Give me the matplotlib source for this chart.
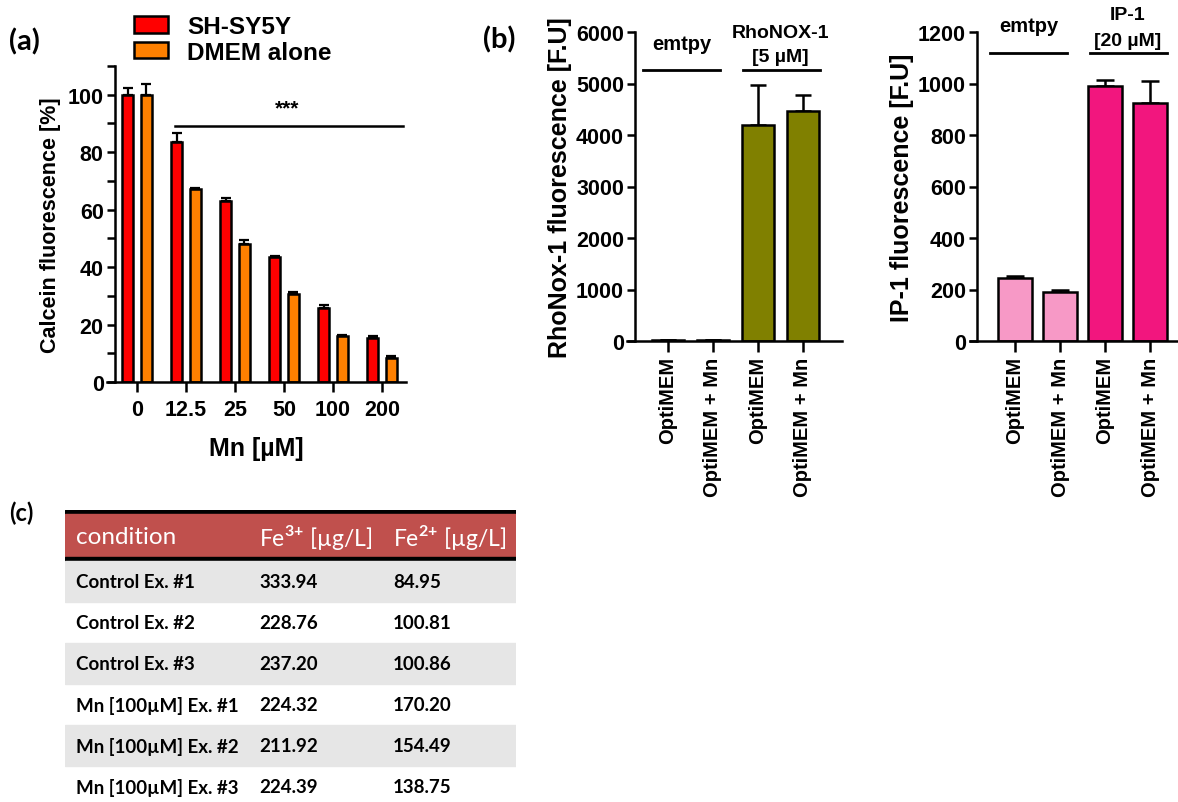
import numpy as np
import matplotlib
matplotlib.use("Agg")
import matplotlib.pyplot as plt
from matplotlib.patches import Rectangle

# panel (a) - calcein quench
mn_labels = ["0", "12.5", "25", "50", "100", "200"]
shsy5y = [99.8, 83.7, 62.9, 43.4, 25.6, 15.2]
shsy5y_err = [2.5, 2.9, 1.0, 0.4, 1.2, 0.9]
dmem = [99.8, 67.1, 47.9, 30.7, 15.9, 8.2]
dmem_err = [3.9, 0.6, 1.4, 0.5, 0.5, 0.7]

# panel (b) - RhoNox-1 and IP-1
cond_labels = ["OptiMEM", "OptiMEM + Mn", "OptiMEM", "OptiMEM + Mn"]
rhonox = [15, 15, 4200, 4460]
rhonox_err = [0, 0, 780, 320]
ip1 = [243, 191, 989, 925]
ip1_err = [10, 6, 23, 83]

# panel (c) - table
conditions = ["Control Ex. #1", "Control Ex. #2", "Control Ex. #3",
              "Mn [100µM] Ex. #1", "Mn [100µM] Ex. #2", "Mn [100µM] Ex. #3"]
fe3 = [333.94, 228.76, 237.20, 224.32, 211.92, 224.39]
fe2 = [84.95, 100.81, 100.86, 170.20, 154.49, 138.75]

W, H = 1178, 803
plt.rcParams["font.family"] = ["Liberation Sans", "DejaVu Sans"]
plt.rcParams["font.weight"] = "bold"
plt.rcParams["axes.labelweight"] = "bold"
plt.rcParams["mathtext.fontset"] = "custom"
plt.rcParams["mathtext.rm"] = "Lato"
plt.rcParams["mathtext.bf"] = "Lato:bold"

fig = plt.figure(figsize=(W / 100, H / 100), dpi=100)


def px_axes(l, t, r, b):
    return fig.add_axes([l / W, 1 - b / H, (r - l) / W, (b - t) / H])


def style_axes(ax, spine_x, labelsize):
    for s in ["top", "right"]:
        ax.spines[s].set_visible(False)
    for s in ["left", "bottom"]:
        ax.spines[s].set_linewidth(1.8)
    ax.spines["left"].set_position(("data", spine_x))
    ax.tick_params(width=1.8, length=6, labelsize=labelsize, pad=2)


def errs(e):
    return [np.zeros(len(e)), e]


# ---------- (a)
ax = px_axes(107, 67, 406, 383)
x = np.arange(len(mn_labels))
b1 = ax.bar(x - 0.19, shsy5y, 0.23, color="#FF0000", edgecolor="black", linewidth=1.8, label="SH-SY5Y")
b2 = ax.bar(x + 0.19, dmem, 0.23, color="#FF8000", edgecolor="black", linewidth=1.8, label="DMEM alone")
ax.errorbar(x - 0.19, shsy5y, yerr=errs(shsy5y_err), fmt="none", ecolor="black",
            elinewidth=1.6, capsize=3.5, capthick=1.6, zorder=1)
ax.errorbar(x + 0.19, dmem, yerr=errs(dmem_err), fmt="none", ecolor="black",
            elinewidth=1.6, capsize=3.5, capthick=1.6, zorder=1)
ax.set_xlim(-0.61, 5.49)
ax.set_ylim(0, 110)
style_axes(ax, -0.45, 15.5)
ax.set_xticks(x)
ax.set_xticklabels(mn_labels)
ax.set_yticks(np.arange(0, 111, 10))
ax.set_yticklabels([str(v) if v % 20 == 0 else "" for v in range(0, 111, 10)])
ax.tick_params(axis="x", length=7, pad=5)
ax.set_ylabel("Calcein fluorescence [%]", fontsize=15.5, labelpad=5)
ax.set_xlabel("Mn [µM]", fontsize=18, labelpad=12)
ax.plot([0.78, 5.43], [89, 89], color="black", lw=1.8, clip_on=False)
ax.text(3.06, 95.5, "***", ha="center", va="center", fontsize=15)
ax.legend(handles=[b1, b2], loc="upper left", bbox_to_anchor=(134 / W, 1 - 16 / H),
          bbox_transform=fig.transFigure, frameon=False, fontsize=17.5,
          handlelength=1.4, handleheight=0.65, handletextpad=0.8, labelspacing=0.12,
          borderpad=0, borderaxespad=0)


def fluo_panel(l, r, spine_x, xlim, vals, err, colors, width, ymax, step,
               ylabel, left_txt, right_txt, line_y, capsize):
    ax = px_axes(l, 33, r, 342)
    xx = np.arange(len(vals))
    ax.bar(xx, vals, width, color=colors, edgecolor="black", linewidth=1.8, zorder=2)
    ax.errorbar(xx, vals, yerr=errs(err), fmt="none", ecolor="black",
                elinewidth=1.8, capsize=capsize, capthick=1.8, zorder=1)
    ax.set_xlim(*xlim)
    ax.set_ylim(0, ymax)
    style_axes(ax, spine_x, 15.5)
    ax.set_yticks(np.arange(0, ymax + 1, step))
    ax.set_xticks(xx)
    ax.set_xticklabels(cond_labels, rotation=90, fontsize=14.5)
    ax.tick_params(axis="x", length=8, pad=3)
    ax.set_ylabel(ylabel, fontsize=18, labelpad=3)
    # group annotations
    for x0, x1 in [(-0.56, 1.15), (1.66, 3.37)]:
        ax.plot([x0, x1], [line_y, line_y], color="black", lw=2, clip_on=False)
    ax.text(0.3, left_txt[1], left_txt[0], ha="center", va="center", fontsize=14.5)
    for txt, yy in right_txt:
        ax.text(2.5, yy, txt, ha="center", va="center", fontsize=14)
    return ax


fluo_panel(627, 842, -0.73, (-0.91, 3.87), rhonox, rhonox_err, "#808000", 0.71, 6000, 1000,
           "RhoNox-1 fluorescence [F.U]", ("emtpy", 5774),
           [("RhoNOX-1", 6000), ("[5 µM]", 5520)], 5268, 5.5)
fluo_panel(970, 1178, -0.84, (-1.0, 3.62), ip1, ip1_err,
           ["#F799C6", "#F799C6", "#F2167E", "#F2167E"], 0.75, 1200, 200,
           "IP-1 fluorescence [F.U]", ("emtpy", 1225),
           [("IP-1", 1268), ("[20 µM]", 1167)], 1119, 6.5)

# ---------- (c) table, drawn in pixel units
tx = px_axes(65, 511, 516, 803)
tx.set_xlim(0, 451)
tx.set_ylim(292, 0)
tx.axis("off")
tx.add_patch(Rectangle((0, 0), 451, 4, color="black"))
tx.add_patch(Rectangle((0, 4), 451, 43, color="#C0504D"))
tx.add_patch(Rectangle((0, 47), 451, 4, color="black"))
col_x = [11, 194, 328]
headers = ["condition", r"Fe$^{\mathrm{3{+}}}$ [µg/L]", r"Fe$^{\mathrm{2{+}}}$ [µg/L]"]
for cx, hd, fs in zip(col_x, headers, [17.5, 16.5, 16.5]):
    tx.text(cx, 27, hd, color="white", fontsize=fs, family="Lato", fontweight="normal",
            ha="left", va="center")
for i, (c, a, b) in enumerate(zip(conditions, fe3, fe2)):
    top = 51 + 41 * i
    if i % 2 == 0:
        tx.add_patch(Rectangle((0, top), 451, 41, color="#E6E6E6"))
    for cx, txt in zip(col_x, [c, f"{a:.2f}", f"{b:.2f}"]):
        tx.text(cx, top + 21, txt, fontsize=13.5, family="Lato", fontweight="bold",
                ha="left", va="center", color="black")

# panel letters
for lx, ly, lab, fs in [(9, 42, "(a)", 21), (483, 40, "(b)", 21), (9, 513, "(c)", 17)]:
    fig.text(lx / W, 1 - ly / H, lab, fontsize=fs, family="Lato", fontweight="bold",
             ha="left", va="center")

fig.savefig("out.png", dpi=100)
